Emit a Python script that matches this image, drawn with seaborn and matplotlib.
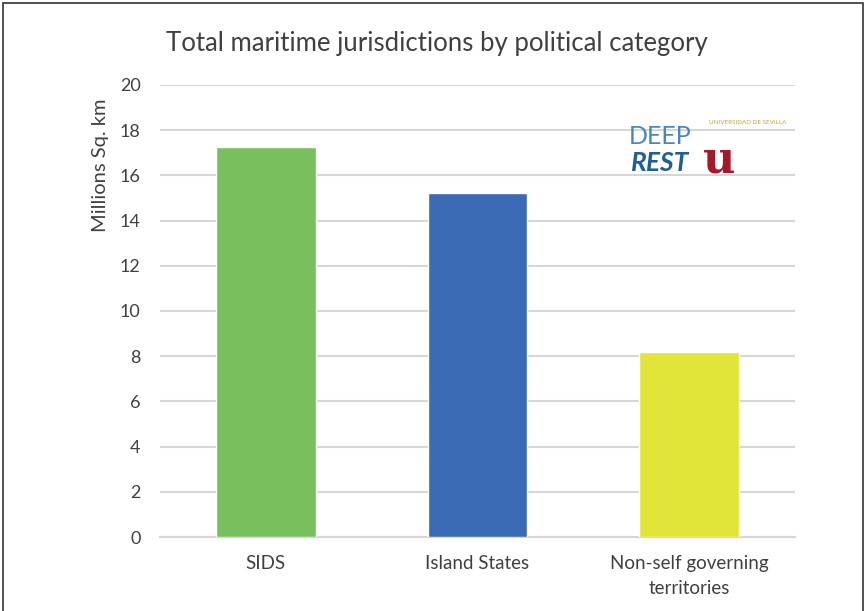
import matplotlib
matplotlib.use("Agg")
import matplotlib.pyplot as plt
import seaborn as sns
import pandas as pd
from matplotlib.patches import Rectangle

categories = ["SIDS", "Island States", "Non-self governing\nterritories"]
values = [17.25, 15.2, 8.2]
colors = ["#78c05e", "#3b6bb4", "#e2e43a"]
yticks = [0, 2, 4, 6, 8, 10, 12, 14, 16, 18, 20]

sns.set_theme(style="white")
plt.rcParams['font.family'] = ['Lato', 'DejaVu Sans']

df = pd.DataFrame({"cat": categories, "val": values})

fig = plt.figure(figsize=(8.67, 6.11), dpi=100)
ax = fig.add_axes([0.1845, 0.121, 0.7325, 0.740])
sns.barplot(data=df, x="cat", y="val", hue="cat", palette=colors, width=0.47,
            saturation=1, legend=False, ax=ax, zorder=3)
ax.set_ylim(0, 20)
ax.set_yticks(yticks)
ax.set_yticklabels([str(t) for t in yticks], fontsize=13, color="#404040")
ax.set_xlim(-0.5, 2.5)
ax.tick_params(axis="x", labelsize=13.5, colors="#404040", length=0, pad=13)
for lbl in ax.get_xticklabels():
    lbl.set_linespacing(1.55)
ax.tick_params(axis="y", length=0, pad=14)
ax.yaxis.grid(True, color="#d6d6d6", linewidth=1.5, zorder=0)
ax.set_axisbelow(True)
for s in ["top", "right", "left"]:
    ax.spines[s].set_visible(False)
ax.spines["bottom"].set_color("#d6d6d6")
ax.spines["bottom"].set_linewidth(1.5)
ax.set_xlabel("")
ax.set_ylabel("Millions Sq. km", fontsize=14.5, color="#404040")
ax.yaxis.set_label_coords(-0.080, 0.823)

fig.text(0.504, 0.928, "Total maritime jurisdictions by political category",
         ha="center", va="center", fontsize=18.5, color="#404040")

# logo approximation
fig.text(0.761, 0.776, "DEEP", ha="center", va="center", fontsize=18,
         color="#4a86b8")
fig.text(0.761, 0.733, "REST", ha="center", va="center", fontsize=19,
         color="#1f5f95", fontweight="bold", style="italic")
fig.text(0.830, 0.738, "u", ha="center", va="center", fontsize=32,
         color="#a3182b", family="DejaVu Serif", fontweight="bold")
fig.text(0.862, 0.800, "UNIVERSIDAD DE SEVILLA", ha="center", va="center",
         fontsize=4.5, color="#c9a13a")

fig.patches.append(Rectangle((0.0035, -0.01), 0.9915, 1.005, transform=fig.transFigure,
                             fill=False, edgecolor="#333333", linewidth=1.2))

fig.savefig("out.png", dpi=100)
